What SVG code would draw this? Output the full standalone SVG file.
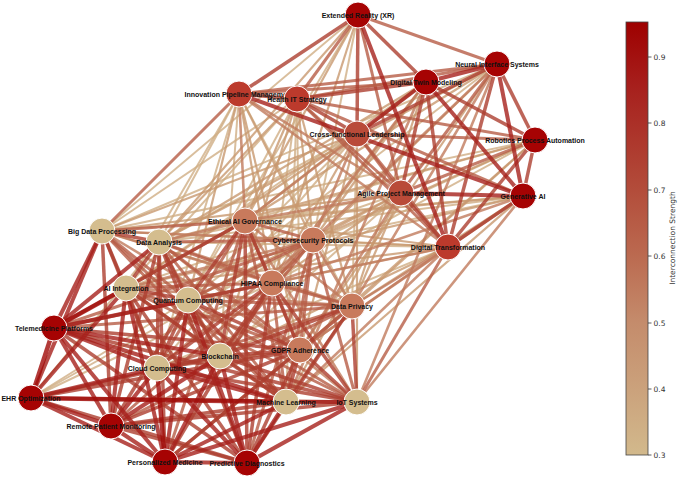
<svg xmlns="http://www.w3.org/2000/svg" width="678" height="478" viewBox="0 0 678 478">
<defs>
<linearGradient id="cbar" x1="0" y1="0" x2="0" y2="1">
<stop offset="0" stop-color="#9e0000"/>
<stop offset="0.15" stop-color="#a7201d"/>
<stop offset="0.39" stop-color="#b34d3b"/>
<stop offset="0.54" stop-color="#bb6a50"/>
<stop offset="0.69" stop-color="#c48b6b"/>
<stop offset="0.85" stop-color="#cba27c"/>
<stop offset="1" stop-color="#d2b98c"/>
</linearGradient>
<style>
#edges line{stroke-opacity:0.8;stroke-linecap:butt}
.c1 line{stroke:#cfae84;stroke-width:2}
.c2 line{stroke:#c8986f;stroke-width:2.2}
.c3 line{stroke:#c07a5d;stroke-width:2.6}
.c4 line{stroke:#b75d46;stroke-width:3}
.c5 line{stroke:#ad3e30;stroke-width:3.5}
.c6 line{stroke:#a6201c;stroke-width:4}
.c7 line{stroke:#a00a08;stroke-width:4.5}
.node circle{stroke:#fff;stroke-width:1}
.node text{font-family:"Liberation Sans",Arial,sans-serif;font-weight:bold;font-size:7px;fill:#111;text-anchor:middle}
.dr{fill:#a60303}
.rd{fill:#bc3a2c}
.rm{fill:#b94b39}
.sa{fill:#c87a5c}
.tn{fill:#d4bd8e}
.tick{font-family:"DejaVu Sans",sans-serif;font-size:7.5px;fill:#333}
</style>
</defs>
<rect width="678" height="478" fill="#fff"/>
<g id="edges">
<g class="c1">
<line x1="239" y1="94" x2="352" y2="306"/><line x1="297" y1="99" x2="272" y2="283"/><line x1="297" y1="99" x2="300" y2="350"/><line x1="357" y1="134" x2="352" y2="306"/>
<line x1="239" y1="94" x2="159" y2="242"/><line x1="239" y1="94" x2="126" y2="288"/><line x1="239" y1="94" x2="220" y2="356"/><line x1="239" y1="94" x2="157" y2="368"/>
<line x1="297" y1="99" x2="102" y2="231"/><line x1="297" y1="99" x2="126" y2="288"/><line x1="297" y1="99" x2="188" y2="300"/><line x1="297" y1="99" x2="286" y2="402"/>
<line x1="357" y1="134" x2="159" y2="242"/><line x1="357" y1="134" x2="188" y2="300"/><line x1="357" y1="134" x2="157" y2="368"/>
<line x1="401" y1="193" x2="159" y2="242"/><line x1="401" y1="193" x2="126" y2="288"/><line x1="401" y1="193" x2="220" y2="356"/>
<line x1="448" y1="247" x2="102" y2="231"/><line x1="448" y1="247" x2="159" y2="242"/><line x1="448" y1="247" x2="188" y2="300"/><line x1="448" y1="247" x2="157" y2="368"/>
<line x1="358" y1="15" x2="313" y2="240"/><line x1="358" y1="15" x2="102" y2="231"/><line x1="358" y1="15" x2="188" y2="300"/>
<line x1="497" y1="64" x2="102" y2="231"/><line x1="497" y1="64" x2="188" y2="300"/><line x1="426" y1="82" x2="126" y2="288"/>
<line x1="535" y1="140" x2="245" y2="221"/><line x1="535" y1="140" x2="272" y2="283"/><line x1="535" y1="140" x2="102" y2="231"/><line x1="535" y1="140" x2="188" y2="300"/>
<line x1="523" y1="196" x2="313" y2="240"/><line x1="523" y1="196" x2="102" y2="231"/><line x1="523" y1="196" x2="159" y2="242"/>
<line x1="31" y1="398" x2="159" y2="242"/><line x1="31" y1="398" x2="188" y2="300"/><line x1="31" y1="398" x2="272" y2="283"/><line x1="31" y1="398" x2="313" y2="240"/>
</g>
<g class="c2">
<line x1="239" y1="94" x2="313" y2="240"/><line x1="239" y1="94" x2="272" y2="283"/><line x1="239" y1="94" x2="300" y2="350"/>
<line x1="297" y1="99" x2="245" y2="221"/><line x1="297" y1="99" x2="313" y2="240"/><line x1="297" y1="99" x2="352" y2="306"/>
<line x1="357" y1="134" x2="245" y2="221"/><line x1="357" y1="134" x2="272" y2="283"/><line x1="357" y1="134" x2="300" y2="350"/>
<line x1="401" y1="193" x2="313" y2="240"/><line x1="401" y1="193" x2="272" y2="283"/><line x1="401" y1="193" x2="352" y2="306"/>
<line x1="448" y1="247" x2="245" y2="221"/><line x1="448" y1="247" x2="313" y2="240"/>
<line x1="239" y1="94" x2="188" y2="300"/><line x1="297" y1="99" x2="159" y2="242"/><line x1="297" y1="99" x2="220" y2="356"/>
<line x1="357" y1="134" x2="102" y2="231"/><line x1="357" y1="134" x2="126" y2="288"/><line x1="357" y1="134" x2="357" y2="402"/>
<line x1="401" y1="193" x2="102" y2="231"/><line x1="401" y1="193" x2="188" y2="300"/><line x1="401" y1="193" x2="286" y2="402"/>
<line x1="448" y1="247" x2="126" y2="288"/><line x1="448" y1="247" x2="220" y2="356"/>
<line x1="358" y1="15" x2="245" y2="221"/><line x1="358" y1="15" x2="272" y2="283"/><line x1="358" y1="15" x2="159" y2="242"/>
<line x1="497" y1="64" x2="245" y2="221"/><line x1="497" y1="64" x2="272" y2="283"/><line x1="497" y1="64" x2="300" y2="350"/><line x1="497" y1="64" x2="159" y2="242"/>
<line x1="426" y1="82" x2="313" y2="240"/><line x1="426" y1="82" x2="352" y2="306"/><line x1="426" y1="82" x2="159" y2="242"/><line x1="426" y1="82" x2="220" y2="356"/>
<line x1="535" y1="140" x2="313" y2="240"/><line x1="535" y1="140" x2="352" y2="306"/><line x1="535" y1="140" x2="159" y2="242"/><line x1="535" y1="140" x2="300" y2="350"/>
<line x1="523" y1="196" x2="245" y2="221"/><line x1="523" y1="196" x2="352" y2="306"/><line x1="523" y1="196" x2="126" y2="288"/><line x1="523" y1="196" x2="286" y2="402"/>
<line x1="352" y1="306" x2="102" y2="231"/>
</g>
<g class="c3">
<line x1="239" y1="94" x2="245" y2="221"/><line x1="357" y1="134" x2="313" y2="240"/><line x1="401" y1="193" x2="245" y2="221"/><line x1="401" y1="193" x2="300" y2="350"/>
<line x1="448" y1="247" x2="272" y2="283"/><line x1="448" y1="247" x2="352" y2="306"/><line x1="448" y1="247" x2="300" y2="350"/><line x1="448" y1="247" x2="286" y2="402"/>
<line x1="497" y1="64" x2="313" y2="240"/><line x1="497" y1="64" x2="352" y2="306"/><line x1="497" y1="64" x2="357" y2="402"/>
<line x1="426" y1="82" x2="245" y2="221"/><line x1="426" y1="82" x2="272" y2="283"/><line x1="426" y1="82" x2="286" y2="402"/>
<line x1="523" y1="196" x2="272" y2="283"/><line x1="523" y1="196" x2="300" y2="350"/><line x1="523" y1="196" x2="357" y2="402"/>
<line x1="239" y1="94" x2="401" y2="193"/><line x1="239" y1="94" x2="448" y2="247"/>
<line x1="245" y1="221" x2="352" y2="306"/><line x1="313" y1="240" x2="352" y2="306"/><line x1="245" y1="221" x2="159" y2="242"/><line x1="245" y1="221" x2="357" y2="402"/>
<line x1="313" y1="240" x2="102" y2="231"/><line x1="313" y1="240" x2="126" y2="288"/><line x1="313" y1="240" x2="157" y2="368"/><line x1="272" y1="283" x2="102" y2="231"/>
<line x1="352" y1="306" x2="159" y2="242"/><line x1="352" y1="306" x2="126" y2="288"/><line x1="300" y1="350" x2="102" y2="231"/><line x1="159" y1="242" x2="357" y2="402"/>
</g>
<g class="c4">
<line x1="358" y1="15" x2="297" y2="99"/><line x1="358" y1="15" x2="401" y2="193"/><line x1="497" y1="64" x2="239" y2="94"/><line x1="497" y1="64" x2="297" y2="99"/>
<line x1="497" y1="64" x2="401" y2="193"/><line x1="426" y1="82" x2="239" y2="94"/><line x1="535" y1="140" x2="297" y2="99"/><line x1="535" y1="140" x2="357" y2="134"/>
<line x1="535" y1="140" x2="401" y2="193"/><line x1="523" y1="196" x2="297" y2="99"/><line x1="357" y1="134" x2="401" y2="193"/><line x1="357" y1="134" x2="448" y2="247"/>
<line x1="297" y1="99" x2="401" y2="193"/><line x1="297" y1="99" x2="448" y2="247"/><line x1="358" y1="15" x2="497" y2="64"/><line x1="239" y1="94" x2="102" y2="231"/>
<line x1="448" y1="247" x2="357" y2="402"/>
<line x1="245" y1="221" x2="313" y2="240"/><line x1="245" y1="221" x2="300" y2="350"/><line x1="313" y1="240" x2="272" y2="283"/><line x1="313" y1="240" x2="300" y2="350"/>
<line x1="272" y1="283" x2="352" y2="306"/><line x1="352" y1="306" x2="300" y2="350"/>
<line x1="245" y1="221" x2="102" y2="231"/><line x1="245" y1="221" x2="126" y2="288"/><line x1="245" y1="221" x2="157" y2="368"/><line x1="245" y1="221" x2="286" y2="402"/>
<line x1="313" y1="240" x2="159" y2="242"/><line x1="313" y1="240" x2="188" y2="300"/><line x1="313" y1="240" x2="220" y2="356"/><line x1="313" y1="240" x2="286" y2="402"/><line x1="313" y1="240" x2="357" y2="402"/>
<line x1="272" y1="283" x2="159" y2="242"/><line x1="272" y1="283" x2="126" y2="288"/><line x1="272" y1="283" x2="188" y2="300"/><line x1="272" y1="283" x2="286" y2="402"/>
<line x1="352" y1="306" x2="188" y2="300"/><line x1="352" y1="306" x2="157" y2="368"/><line x1="352" y1="306" x2="286" y2="402"/>
<line x1="300" y1="350" x2="159" y2="242"/><line x1="300" y1="350" x2="126" y2="288"/><line x1="300" y1="350" x2="157" y2="368"/>
<line x1="102" y1="231" x2="188" y2="300"/><line x1="102" y1="231" x2="220" y2="356"/><line x1="102" y1="231" x2="286" y2="402"/>
<line x1="159" y1="242" x2="220" y2="356"/><line x1="159" y1="242" x2="286" y2="402"/><line x1="126" y1="288" x2="286" y2="402"/><line x1="126" y1="288" x2="357" y2="402"/><line x1="188" y1="300" x2="357" y2="402"/>
<line x1="54" y1="328" x2="313" y2="240"/><line x1="54" y1="328" x2="352" y2="306"/><line x1="111" y1="426" x2="272" y2="283"/><line x1="111" y1="426" x2="352" y2="306"/>
<line x1="165" y1="462" x2="352" y2="306"/><line x1="165" y1="462" x2="245" y2="221"/><line x1="247" y1="463" x2="313" y2="240"/>
</g>
<g class="c5">
<line x1="358" y1="15" x2="239" y2="94"/><line x1="358" y1="15" x2="357" y2="134"/><line x1="497" y1="64" x2="357" y2="134"/><line x1="497" y1="64" x2="448" y2="247"/>
<line x1="426" y1="82" x2="297" y2="99"/><line x1="426" y1="82" x2="401" y2="193"/><line x1="426" y1="82" x2="448" y2="247"/><line x1="535" y1="140" x2="448" y2="247"/>
<line x1="523" y1="196" x2="448" y2="247"/><line x1="239" y1="94" x2="297" y2="99"/><line x1="297" y1="99" x2="357" y2="134"/><line x1="401" y1="193" x2="448" y2="247"/>
<line x1="358" y1="15" x2="426" y2="82"/><line x1="497" y1="64" x2="535" y2="140"/><line x1="426" y1="82" x2="535" y2="140"/><line x1="535" y1="140" x2="523" y2="196"/>
<line x1="245" y1="221" x2="272" y2="283"/><line x1="272" y1="283" x2="300" y2="350"/><line x1="245" y1="221" x2="188" y2="300"/><line x1="245" y1="221" x2="220" y2="356"/>
<line x1="272" y1="283" x2="220" y2="356"/><line x1="272" y1="283" x2="157" y2="368"/><line x1="272" y1="283" x2="357" y2="402"/><line x1="352" y1="306" x2="220" y2="356"/>
<line x1="352" y1="306" x2="357" y2="402"/><line x1="300" y1="350" x2="188" y2="300"/><line x1="300" y1="350" x2="220" y2="356"/><line x1="300" y1="350" x2="286" y2="402"/><line x1="300" y1="350" x2="357" y2="402"/>
<line x1="102" y1="231" x2="159" y2="242"/><line x1="102" y1="231" x2="126" y2="288"/><line x1="102" y1="231" x2="157" y2="368"/><line x1="159" y1="242" x2="126" y2="288"/>
<line x1="159" y1="242" x2="188" y2="300"/><line x1="159" y1="242" x2="157" y2="368"/><line x1="126" y1="288" x2="188" y2="300"/><line x1="126" y1="288" x2="220" y2="356"/>
<line x1="126" y1="288" x2="157" y2="368"/><line x1="188" y1="300" x2="220" y2="356"/><line x1="188" y1="300" x2="157" y2="368"/><line x1="188" y1="300" x2="286" y2="402"/>
<line x1="220" y1="356" x2="157" y2="368"/><line x1="220" y1="356" x2="286" y2="402"/><line x1="220" y1="356" x2="357" y2="402"/><line x1="157" y1="368" x2="357" y2="402"/>
<line x1="54" y1="328" x2="357" y2="402"/><line x1="31" y1="398" x2="220" y2="356"/><line x1="31" y1="398" x2="357" y2="402"/>
<line x1="111" y1="426" x2="102" y2="231"/><line x1="111" y1="426" x2="188" y2="300"/><line x1="111" y1="426" x2="286" y2="402"/><line x1="111" y1="426" x2="357" y2="402"/><line x1="111" y1="426" x2="159" y2="242"/>
<line x1="165" y1="462" x2="159" y2="242"/><line x1="247" y1="463" x2="126" y2="288"/><line x1="247" y1="463" x2="159" y2="242"/>
<line x1="54" y1="328" x2="245" y2="221"/><line x1="54" y1="328" x2="272" y2="283"/><line x1="54" y1="328" x2="300" y2="350"/><line x1="31" y1="398" x2="300" y2="350"/>
<line x1="111" y1="426" x2="300" y2="350"/><line x1="165" y1="462" x2="272" y2="283"/><line x1="165" y1="462" x2="300" y2="350"/>
<line x1="247" y1="463" x2="272" y2="283"/><line x1="247" y1="463" x2="300" y2="350"/><line x1="247" y1="463" x2="352" y2="306"/><line x1="247" y1="463" x2="245" y2="221"/>
<line x1="54" y1="328" x2="247" y2="463"/><line x1="31" y1="398" x2="247" y2="463"/><line x1="111" y1="426" x2="247" y2="463"/>
</g>
<g class="c6">
<line x1="358" y1="15" x2="448" y2="247"/><line x1="426" y1="82" x2="357" y2="134"/><line x1="523" y1="196" x2="401" y2="193"/><line x1="239" y1="94" x2="523" y2="196"/>
<line x1="497" y1="64" x2="426" y2="82"/><line x1="497" y1="64" x2="523" y2="196"/><line x1="426" y1="82" x2="523" y2="196"/>
<line x1="157" y1="368" x2="286" y2="402"/><line x1="286" y1="402" x2="357" y2="402"/>
<line x1="54" y1="328" x2="102" y2="231"/><line x1="54" y1="328" x2="159" y2="242"/><line x1="54" y1="328" x2="188" y2="300"/><line x1="54" y1="328" x2="220" y2="356"/>
<line x1="54" y1="328" x2="157" y2="368"/><line x1="54" y1="328" x2="286" y2="402"/>
<line x1="31" y1="398" x2="102" y2="231"/><line x1="31" y1="398" x2="126" y2="288"/><line x1="31" y1="398" x2="157" y2="368"/>
<line x1="111" y1="426" x2="126" y2="288"/><line x1="111" y1="426" x2="220" y2="356"/><line x1="111" y1="426" x2="157" y2="368"/>
<line x1="165" y1="462" x2="126" y2="288"/><line x1="165" y1="462" x2="188" y2="300"/><line x1="165" y1="462" x2="220" y2="356"/><line x1="165" y1="462" x2="286" y2="402"/><line x1="165" y1="462" x2="357" y2="402"/>
<line x1="247" y1="463" x2="188" y2="300"/><line x1="247" y1="463" x2="220" y2="356"/><line x1="247" y1="463" x2="157" y2="368"/><line x1="247" y1="463" x2="286" y2="402"/><line x1="247" y1="463" x2="357" y2="402"/>
<line x1="54" y1="328" x2="111" y2="426"/><line x1="54" y1="328" x2="165" y2="462"/><line x1="31" y1="398" x2="111" y2="426"/><line x1="31" y1="398" x2="165" y2="462"/>
<line x1="111" y1="426" x2="165" y2="462"/><line x1="165" y1="462" x2="247" y2="463"/>
</g>
<g class="c7">
<line x1="54" y1="328" x2="126" y2="288"/><line x1="31" y1="398" x2="286" y2="402"/><line x1="165" y1="462" x2="157" y2="368"/><line x1="54" y1="328" x2="31" y2="398"/>
</g>
</g>
<g id="nodes">
<g id="n-xr" class="node"><circle class="dr" cx="358" cy="15" r="13"/><text x="358" y="17.5">Extended Reality (XR)</text></g>
<g id="n-nis" class="node"><circle class="dr" cx="497" cy="64" r="13"/><text x="497" y="66.5">Neural Interface Systems</text></g>
<g id="n-dtm" class="node"><circle class="dr" cx="426" cy="82" r="13"/><text x="426" y="84.5">Digital Twin Modeling</text></g>
<g id="n-ipm" class="node"><circle class="rd" cx="239" cy="94" r="13"/><text x="239" y="96.5">Innovation Pipeline Management</text></g>
<g id="n-hit" class="node"><circle class="rd" cx="297" cy="99" r="13"/><text x="297" y="101.5">Health IT Strategy</text></g>
<g id="n-cfl" class="node"><circle class="rm" cx="357" cy="134" r="13"/><text x="357" y="136.5">Cross-functional Leadership</text></g>
<g id="n-rpa" class="node"><circle class="dr" cx="535" cy="140" r="13"/><text x="535" y="142.5">Robotics Process Automation</text></g>
<g id="n-apm" class="node"><circle class="rm" cx="401" cy="193" r="13"/><text x="401" y="195.5">Agile Project Management</text></g>
<g id="n-gai" class="node"><circle class="dr" cx="523" cy="196" r="13"/><text x="523" y="198.5">Generative AI</text></g>
<g id="n-dt" class="node"><circle class="rd" cx="448" cy="247" r="13"/><text x="448" y="249.5">Digital Transformation</text></g>
<g id="n-eag" class="node"><circle class="sa" cx="245" cy="221" r="13"/><text x="245" y="223.5">Ethical AI Governance</text></g>
<g id="n-bdp" class="node"><circle class="tn" cx="102" cy="231" r="13"/><text x="102" y="233.5">Big Data Processing</text></g>
<g id="n-cyb" class="node"><circle class="sa" cx="313" cy="240" r="13"/><text x="313" y="242.5">Cybersecurity Protocols</text></g>
<g id="n-da" class="node"><circle class="tn" cx="159" cy="242" r="13"/><text x="159" y="244.5">Data Analysis</text></g>
<g id="n-hip" class="node"><circle class="sa" cx="272" cy="283" r="13"/><text x="272" y="285.5">HIPAA Compliance</text></g>
<g id="n-aii" class="node"><circle class="tn" cx="126" cy="288" r="13"/><text x="126" y="290.5">AI Integration</text></g>
<g id="n-qc" class="node"><circle class="tn" cx="188" cy="300" r="13"/><text x="188" y="302.5">Quantum Computing</text></g>
<g id="n-dp" class="node"><circle class="sa" cx="352" cy="306" r="13"/><text x="352" y="308.5">Data Privacy</text></g>
<g id="n-tel" class="node"><circle class="dr" cx="54" cy="328" r="13"/><text x="54" y="330.5">Telemedicine Platforms</text></g>
<g id="n-gdpr" class="node"><circle class="sa" cx="300" cy="350" r="13"/><text x="300" y="352.5">GDPR Adherence</text></g>
<g id="n-bc" class="node"><circle class="tn" cx="220" cy="356" r="13"/><text x="220" y="358.5">Blockchain</text></g>
<g id="n-cc" class="node"><circle class="tn" cx="157" cy="368" r="13"/><text x="157" y="370.5">Cloud Computing</text></g>
<g id="n-ehr" class="node"><circle class="dr" cx="31" cy="398" r="13"/><text x="31" y="400.5">EHR Optimization</text></g>
<g id="n-ml" class="node"><circle class="tn" cx="286" cy="402" r="13"/><text x="286" y="404.5">Machine Learning</text></g>
<g id="n-iot" class="node"><circle class="tn" cx="357" cy="402" r="13"/><text x="357" y="404.5">IoT Systems</text></g>
<g id="n-rpm" class="node"><circle class="dr" cx="111" cy="426" r="13"/><text x="111" y="428.5">Remote Patient Monitoring</text></g>
<g id="n-pm" class="node"><circle class="dr" cx="165" cy="462" r="13"/><text x="165" y="464.5">Personalized Medicine</text></g>
<g id="n-pd" class="node"><circle class="dr" cx="247" cy="463" r="13"/><text x="247" y="465.5">Predictive Diagnostics</text></g>
</g>
<g id="colorbar">
<rect x="626" y="22" width="22" height="433" fill="url(#cbar)" stroke="#444" stroke-width="0.8"/>
<g stroke="#333" stroke-width="0.8">
<line x1="648" y1="57" x2="651.5" y2="57"/><line x1="648" y1="123" x2="651.5" y2="123"/><line x1="648" y1="190" x2="651.5" y2="190"/>
<line x1="648" y1="256" x2="651.5" y2="256"/><line x1="648" y1="323" x2="651.5" y2="323"/><line x1="648" y1="389" x2="651.5" y2="389"/><line x1="648" y1="455" x2="651.5" y2="455"/>
</g>
<text class="tick" x="653.5" y="59.7">0.9</text>
<text class="tick" x="653.5" y="125.7">0.8</text>
<text class="tick" x="653.5" y="192.7">0.7</text>
<text class="tick" x="653.5" y="258.7">0.6</text>
<text class="tick" x="653.5" y="325.7">0.5</text>
<text class="tick" x="653.5" y="391.7">0.4</text>
<text class="tick" x="653.5" y="457.7">0.3</text>
<text class="tick" x="675" y="238" text-anchor="middle" transform="rotate(-90 675 238)">Interconnection Strength</text>
</g>
</svg>
